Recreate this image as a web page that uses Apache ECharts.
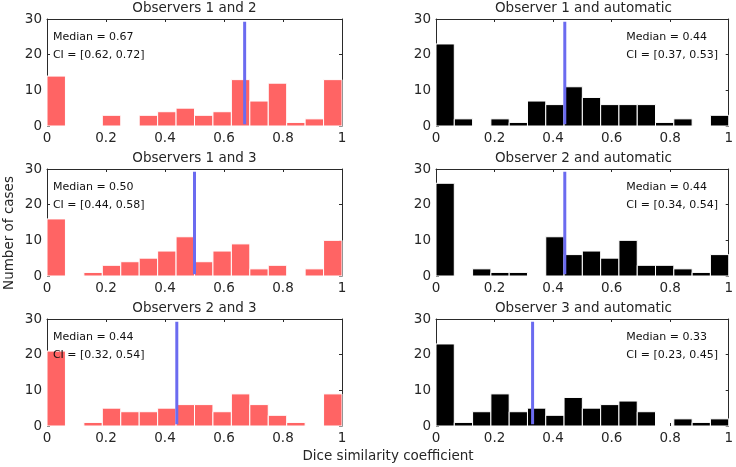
<!DOCTYPE html>
<html>
<head>
<meta charset="utf-8">
<script src="https://cdn.jsdelivr.net/npm/echarts@6/dist/echarts.min.js"></script>
<style>html,body{margin:0;padding:0;background:#fff}#c{width:736px;height:467px}</style>
</head>
<body>
<div id="c"></div>
<script>
// ---- data ----
const binCount = 16; // bins of equal width on [0, 1]
const titles = ['Observers 1 and 2', 'Observer 1 and automatic', 'Observers 1 and 3', 'Observer 2 and automatic', 'Observers 2 and 3', 'Observer 3 and automatic'];
const obs12    = [14,0,0,3,0,3,4,5,3,4,13,7,12,1,2,13];
const obs1auto = [23,2,0,2,1,7,6,11,8,6,6,6,1,2,0,3];
const obs13    = [16,0,1,3,4,5,7,11,4,7,9,2,3,0,2,10];
const obs2auto = [26,0,2,1,1,0,11,6,7,5,10,3,3,2,1,6];
const obs23    = [21,0,1,5,4,4,5,6,6,4,9,6,3,1,0,9];
const obs3auto = [23,1,4,9,4,5,3,8,5,6,7,4,0,2,1,2];
const medians  = [0.67, 0.44, 0.50, 0.44, 0.44, 0.33];
const ciLow    = [0.62, 0.37, 0.44, 0.34, 0.32, 0.23];
const ciHigh   = [0.72, 0.53, 0.58, 0.54, 0.54, 0.45];
const xTicks = [0, 0.2, 0.4, 0.6, 0.8, 1];
const yTicks = [0, 10, 20, 30];

// ---- layout ----
const FONT = 'DejaVu Sans';
const TXT = '#262626';
const AX = '#2a2a2a';
const lefts = [47, 436];
const tops = [19, 169, 319];
const W = 295, H = 107;
const seriesData = [obs12, obs1auto, obs13, obs2auto, obs23, obs3auto];
const colors = ['#ff6464', '#000000', '#ff6464', '#000000', '#ff6464', '#000000'];

const grid = [], xAxis = [], yAxis = [], series = [], graphic = [];
for (let i = 0; i < 6; i++) {
  const col = i % 2, row = Math.floor(i / 2);
  grid.push({left: lefts[col], top: tops[row], width: W, height: H, containLabel: false});
  const xa = 2 * i, ya = 2 * i;
  // bottom x axis with labels
  xAxis.push({gridIndex: i, type: 'value', min: 0, max: 1, interval: 0.2, position: 'bottom',
    axisLine: {show: false}, splitLine: {show: false},
    axisTick: {show: true, inside: true, length: 3, lineStyle: {color: AX}},
    axisLabel: {show: true, color: TXT, fontFamily: FONT, fontSize: 13.5, margin: 5,
      formatter: v => xTicks.indexOf(Math.round(v * 10) / 10) >= 0 ? String(Math.round(v * 10) / 10) : ''}});
  // top x axis (frame)
  xAxis.push({gridIndex: i, type: 'value', min: 0, max: 1, interval: 0.2, position: 'top',
    axisLine: {show: true, onZero: false, lineStyle: {color: AX, width: 1}}, splitLine: {show: false},
    axisTick: {show: true, inside: true, length: 3, lineStyle: {color: AX}},
    axisLabel: {show: false}});
  yAxis.push({gridIndex: i, type: 'value', min: 0, max: 30, interval: 10, position: 'left',
    axisLine: {show: true, onZero: false, lineStyle: {color: AX, width: 1}}, splitLine: {show: false},
    axisTick: {show: true, inside: true, length: 3, lineStyle: {color: AX}},
    axisLabel: {show: true, color: TXT, fontFamily: FONT, fontSize: 13.5, margin: 5,
      formatter: v => yTicks.indexOf(v) >= 0 ? String(v) : ''}});
  yAxis.push({gridIndex: i, type: 'value', min: 0, max: 30, interval: 10, position: 'right',
    axisLine: {show: true, onZero: false, lineStyle: {color: AX, width: 1}}, splitLine: {show: false},
    axisTick: {show: true, inside: true, length: 3, lineStyle: {color: AX}},
    axisLabel: {show: false}});

  const counts = seriesData[i];
  series.push({
    type: 'custom', xAxisIndex: xa, yAxisIndex: ya, z: 3,
    data: counts.map((c, k) => [k / binCount, (k + 1) / binCount, c]),
    renderItem: (params, api) => {
      const c = api.value(2);
      if (!c) return null;
      const p0 = api.coord([api.value(0), 0]);
      const p1 = api.coord([api.value(1), c]);
      return {type: 'rect', shape: {x: p0[0], y: p1[1], width: p1[0] - p0[0], height: p0[1] - p1[1]},
        style: {fill: colors[i], stroke: '#ffffff', lineWidth: 1}};
    }
  });
  series.push({
    type: 'line', xAxisIndex: xa, yAxisIndex: ya, z: 5, showSymbol: false, symbol: 'none', silent: true,
    data: [[medians[i], 0.5], [medians[i], 29.2]],
    lineStyle: {color: '#6b6bf0', width: 3}
  });
  const tx = col === 0 ? 0.02 : 0.65;
  const lines = ['Median = ' + medians[i].toFixed(2), 'CI = [' + ciLow[i].toFixed(2) + ', ' + ciHigh[i].toFixed(2) + ']'];
  series.push({
    type: 'custom', xAxisIndex: xa, yAxisIndex: ya, z: 6, silent: true,
    data: [[tx, 25, 0], [tx, 20, 1]],
    renderItem: (params, api) => {
      const p = api.coord([api.value(0), api.value(1)]);
      return {type: 'text', x: p[0], y: p[1],
        style: {text: lines[api.value(2)], fill: '#111', font: '11px "' + FONT + '"', align: 'left', verticalAlign: 'middle'}};
    }
  });
  graphic.push({type: 'text', x: lefts[col] + W / 2, y: tops[row] - 11, z: 10,
    style: {text: titles[i], fill: TXT, font: '13.5px "' + FONT + '"', align: 'center', verticalAlign: 'middle'}});
}
graphic.push({type: 'text', x: 388, y: 456, style: {text: 'Dice similarity coefficient', fill: TXT, font: '13.5px "' + FONT + '"', align: 'center', verticalAlign: 'middle'}});
graphic.push({type: 'text', x: 9, y: 233, rotation: Math.PI / 2, style: {text: 'Number of cases', fill: TXT, font: '13.5px "' + FONT + '"', align: 'center', verticalAlign: 'middle'}});

const chart = echarts.init(document.getElementById('c'), null, {renderer: 'canvas'});
chart.setOption({animation: false, backgroundColor: '#fff', grid, xAxis, yAxis, series, graphic});
</script>
</body>
</html>
